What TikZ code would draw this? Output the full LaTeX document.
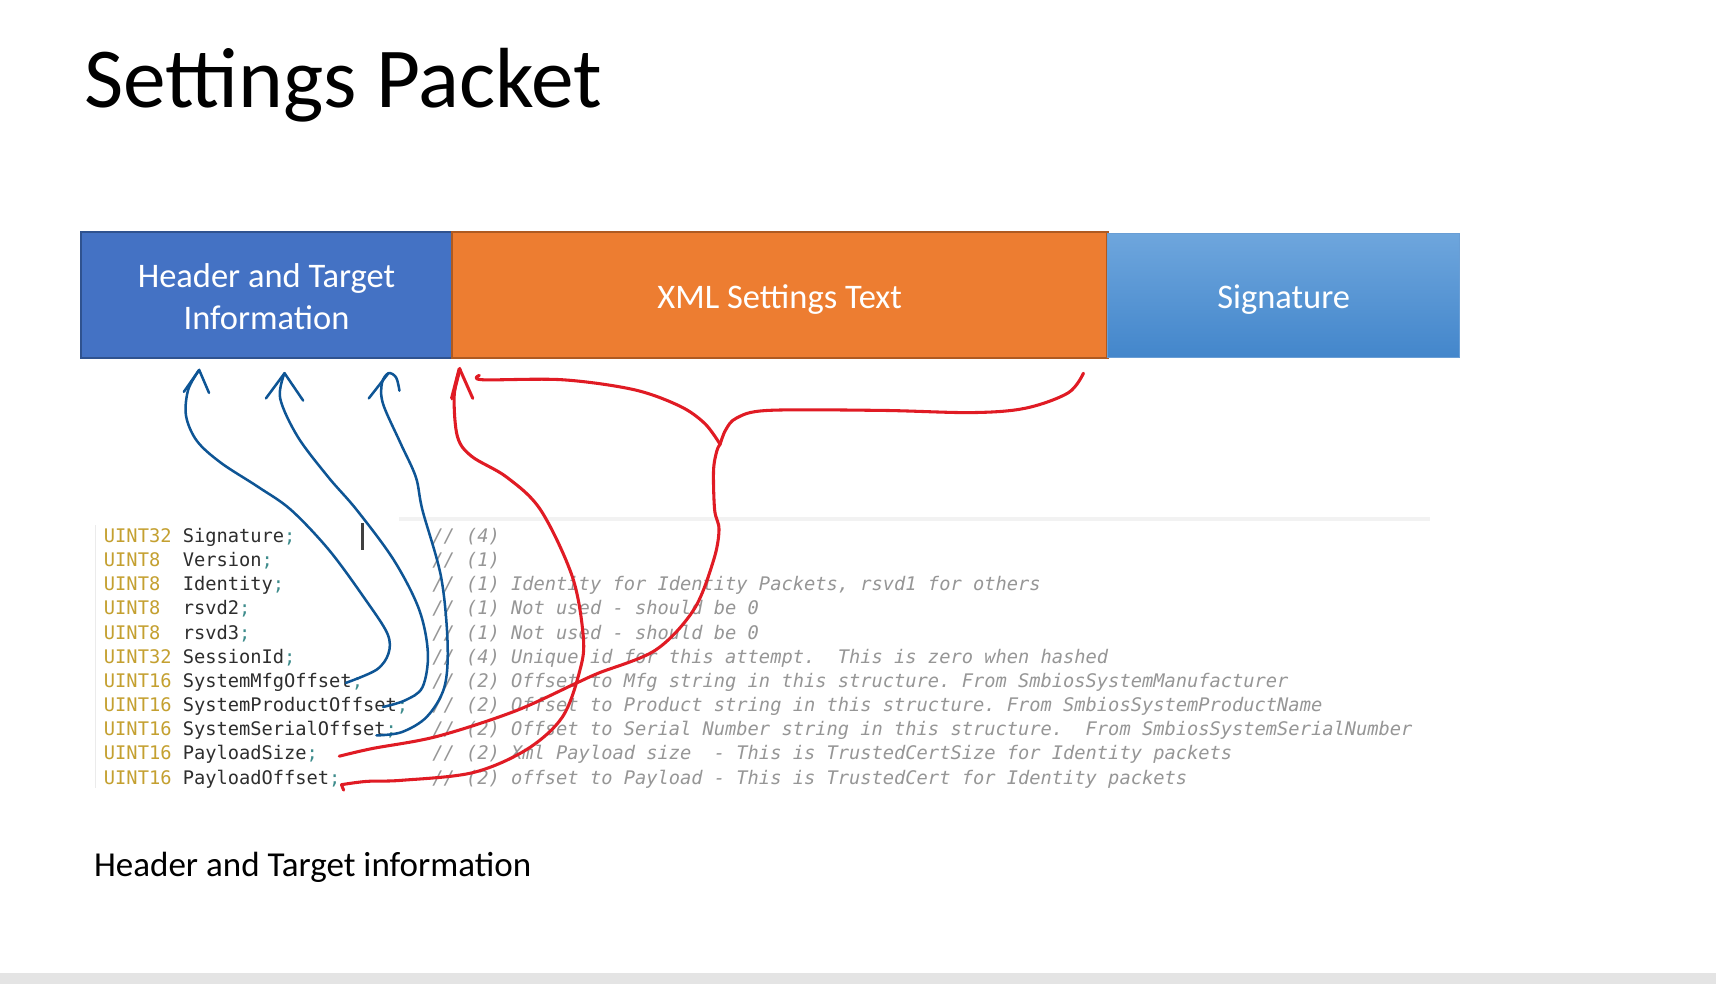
\documentclass[tikz,border=0pt]{standalone}
\usepackage{fontspec}
\setmainfont{Carlito}
\newfontfamily\codefont{DejaVu Sans Mono}
\begin{document}
\frenchspacing
\begin{tikzpicture}[x=1pt,y=-1pt,
  every node/.style={inner sep=0pt, outer sep=0pt},
  boxtxt/.style={text=white, font=\fontsize{31.5}{39}\selectfont, align=center},
  codetxt/.style={anchor=base west, font=\codefont\fontsize{17.1}{22}\selectfont},
  typetxt/.style={codetxt, text=typec},
  identtxt/.style={codetxt, text=identc},
  commtxt/.style={codetxt, text=commc, font=\codefont\itshape\fontsize{17.1}{22}\selectfont},
  bluepen/.style={draw=bluec, line width=2.3pt, line cap=round, line join=round},
  redpen/.style={draw=redc, line width=2.8pt, line cap=round, line join=round},
  sm/.style={smooth, tension=0.55}
]
\definecolor{hdrfill}{HTML}{4472C4}
\definecolor{hdrline}{HTML}{2F528F}
\definecolor{xmlfill}{HTML}{ED7D31}
\definecolor{xmlline}{HTML}{AE5A21}
\definecolor{sigtop}{HTML}{6EA6DD}
\definecolor{sigbot}{HTML}{4386CB}
\definecolor{typec}{HTML}{C4A030}
\definecolor{identc}{HTML}{2E2E2E}
\definecolor{semic}{HTML}{3E8C8C}
\definecolor{commc}{HTML}{969696}
\definecolor{bluec}{HTML}{0E5595}
\definecolor{redc}{HTML}{E01B24}
\definecolor{barc}{HTML}{E4E4E4}

\useasboundingbox (0,0) rectangle (1568,899);
\fill[white] (0,0) rectangle (1568,899);
\fill[barc] (0,889) rectangle (1568,899);

% title
\node[anchor=base west, font=\fontsize{78}{92}\selectfont] (title) at (77,98) {Settings Packet};

% packet boxes
\node[anchor=north west, minimum width=339pt, minimum height=115pt, fill=hdrfill, draw=hdrline, line width=2pt] (hdr) at (74,212) {};
\node[boxtxt] (hdrtxt) at ([yshift=-1.5pt]hdr.center) {Header and Target\\Information};
\node[anchor=north west, minimum width=599pt, minimum height=115pt, fill=xmlfill, draw=xmlline, line width=2pt] (xml) at (413,212) {};
\node[boxtxt] (xmltxt) at ([yshift=-4pt]xml.center) {XML Settings Text};
\node[anchor=north west, minimum width=322pt, minimum height=114pt, top color=sigtop, bottom color=sigbot, draw=sigbot!80!white, line width=0.8pt] (sig) at (1012,213) {};
\node[boxtxt] (sigtxt) at ([yshift=-3.5pt]sig.center) {Signature};

% code block decorations
\draw[line width=4pt, draw=black!5] (365,474) -- (1307,474);
\draw[line width=1pt, draw=black!8] (87,480) -- (87,720);
\draw[line width=2.5pt, draw=black!75] (331,478) -- (331,503);

% code lines
\foreach \n/\ty/\id/\cm [count=\k from 0] in {
  1/UINT32/Signature/{// (4)},
  2/UINT8/Version/{// (1)},
  3/UINT8/Identity/{// (1) Identity for Identity Packets, rsvd1 for others},
  4/UINT8/rsvd2/{// (1) Not used - should be 0},
  5/UINT8/rsvd3/{// (1) Not used - should be 0},
  6/UINT32/SessionId/{// (4) Unique id for this attempt.\ \ This is zero when hashed},
  7/UINT16/SystemMfgOffset/{// (2) Offset to Mfg string in this structure. From SmbiosSystemManufacturer},
  8/UINT16/SystemProductOffset/{// (2) Offset to Product string in this structure. From SmbiosSystemProductName},
  9/UINT16/SystemSerialOffset/{// (2) Offset to Serial Number string in this structure.\ \ From SmbiosSystemSerialNumber},
  10/UINT16/PayloadSize/{// (2) Xml Payload size\ \ - This is TrustedCertSize for Identity packets},
  11/UINT16/PayloadOffset/{// (2) offset to Payload - This is TrustedCert for Identity packets}}
{
  \node[typetxt] (ty\n) at (95,495.5+22.1*\k) {\ty};
  \node[identtxt] (id\n) at (167,495.5+22.1*\k) {\id\textcolor{semic}{;}};
  \node[commtxt] (cm\n) at (395,495.5+22.1*\k) {\cm};
}

% caption
\node[anchor=base west, font=\fontsize{32}{39}\selectfont] (cap) at (86,801) {Header and Target information};

% connector anchors
\coordinate (b1s) at (316,624);
\coordinate (b1t) at (182,338);
\coordinate (b2s) at (350,646);
\coordinate (b2t) at (260,341);
\coordinate (b3s) at (344,672);
\coordinate (b3t) at (355,341);
\coordinate (r1s) at (312,717);
\coordinate (r1t) at (420,337);
\coordinate (r2s) at (310,691);
\coordinate (bt)  at (658,406);
\coordinate (bl)  at (438,343);
\coordinate (br)  at (990,341);

% blue arrows (SystemMfgOffset, SystemProductOffset, SystemSerialOffset -> header)
\draw[bluepen] plot[sm] coordinates {(b1s) (344,612) (355,597) (354,579) (334,548) (301,503) (266,466) (236,445) (202,423) (180,403) (170,380) (172,356) (b1t)};
\draw[bluepen] (168,358) -- (b1t) -- (191,359);

\draw[bluepen] plot[sm] coordinates {(b2s) (370,640) (386,628) (391,597) (383,557) (360,512) (326,466) (300,436) (272,399) (256,364) (b2t)};
\draw[bluepen] (243,364) -- (b2t) -- (277,366);

\draw[bluepen] plot[sm] coordinates {(b3s) (367,669) (390,655) (406,628) (409,588) (403,527) (386,466) (380,436) (366,405) (350,369) (349,350) (b3t) (362,345) (365,357)};
\draw[bluepen] (337,364) -- (b3t);

% red arrow (PayloadOffset -> XML)
\draw[redpen] (314,722) -- (r1s);
\draw[redpen] plot[sm] coordinates {(r1s) (335,714) (367,713) (432,706) (481,685) (514,655) (530,612) (533,582) (523,527) (494,466) (463,436) (431,417) (418,399) (415,362) (r1t)};
\draw[redpen, line width=3.6pt] (413,364) -- (r1t);
\draw[redpen] (r1t) -- (432,364);

% red brace (PayloadSize -> XML span)
\draw[redpen] plot[sm] coordinates {(r2s) (340,684) (399,673) (470,650) (527,624) (547,615) (599,594) (634,557) (652,512) (657,484) (653,466) (652,430) (655,412) (bt)};
\draw[redpen] plot[sm] coordinates {(bt) (644,387) (621,371) (579,356) (514,347) (441,347) (bl)};
\draw[redpen] plot[sm] coordinates {(bt) (663,393) (673,382) (702,375) (805,375) (888,377) (937,373) (976,359) (br)};
\end{tikzpicture}
\end{document}
